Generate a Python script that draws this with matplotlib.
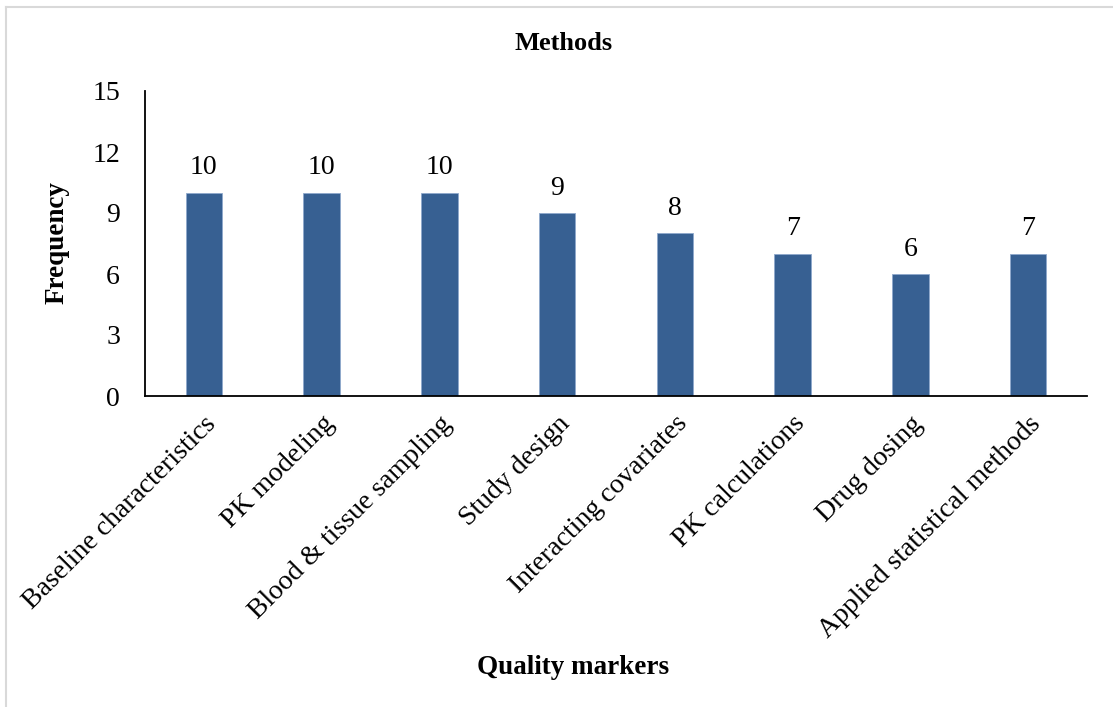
import matplotlib
matplotlib.use("Agg")
import matplotlib.pyplot as plt
from matplotlib.lines import Line2D

categories = ["Baseline characteristics", "PK modeling", "Blood & tissue sampling",
              "Study design", "Interacting covariates", "PK calculations",
              "Drug dosing", "Applied statistical methods"]
frequency = [10, 10, 10, 9, 8, 7, 6, 7]
yticks = [0, 3, 6, 9, 12, 15]

plt.rcParams['font.family'] = ['Liberation Serif', 'DejaVu Serif']

W, H = 1113, 707
fig = plt.figure(figsize=(W / 100, H / 100), dpi=100)
ax = fig.add_axes([145 / W, 1 - 396 / H, (1087 - 145) / W, (396 - 91) / H])

x = list(range(len(categories)))
bars = ax.bar(x, frequency, width=0.31, color="#376092", edgecolor="#8FA9CC", linewidth=0.6, zorder=2)
for xi, v in zip(x, frequency):
    ax.text(xi, v + 0.6, str(v), ha="center", va="bottom", fontsize=20)

ax.set_xlim(-0.5, len(categories) - 0.5)
ax.set_ylim(0, 15)
ax.set_yticks(yticks)
ax.set_yticklabels([str(t) for t in yticks], fontsize=20)
ax.set_xticks(x)
ax.set_xticklabels(categories, rotation=45, ha="right", rotation_mode="anchor", fontsize=20)
ax.tick_params(axis="both", length=0)
ax.tick_params(axis="y", pad=18)
ax.tick_params(axis="x", pad=11)
for s in ["top", "right"]:
    ax.spines[s].set_visible(False)
ax.spines["left"].set_linewidth(1.3)
ax.spines["bottom"].set_linewidth(1.3)

fig.text(564 / W, 1 - 43 / H, "Methods", ha="center", va="center", fontsize=19, fontweight="bold")
fig.text(573 / W, 1 - 667 / H, "Quality markers", ha="center", va="center", fontsize=19.5, fontweight="bold")
fig.text(57 / W, 1 - 243 / H, "Frequency", ha="center", va="center", rotation=90, fontsize=19.5, fontweight="bold")

# chart area border (light gray, only top and left visible in crop)
fig.add_artist(Line2D([5.5 / W, 5.5 / W], [0, 1 - 7 / H], transform=fig.transFigure, color="#D9D9D9", lw=1.5))
fig.add_artist(Line2D([5.5 / W, 1], [1 - 7 / H, 1 - 7 / H], transform=fig.transFigure, color="#D9D9D9", lw=1.5))

fig.savefig("out.png", dpi=100)
